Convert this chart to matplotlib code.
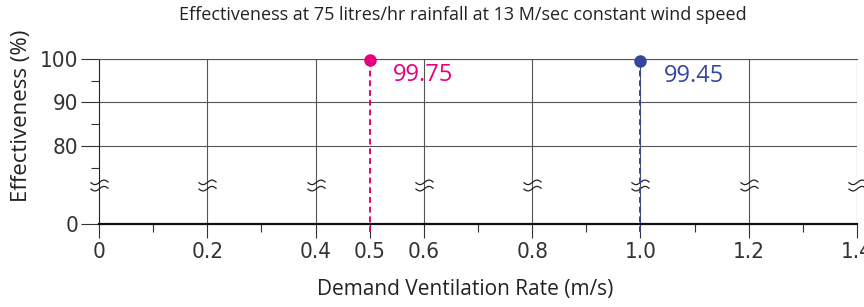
import matplotlib
matplotlib.use("Agg")
import matplotlib.pyplot as plt
import numpy as np
from matplotlib.path import Path
from matplotlib import font_manager

# ---- data ----
rates = [0.5, 1.0]
effectiveness = [99.75, 99.45]
value_labels = ["99.75", "99.45"]
point_colors = ["#E5007D", "#34479E"]
x_major = [0, 0.2, 0.4, 0.5, 0.6, 0.8, 1.0, 1.2, 1.4]
x_major_labels = ["0", "0.2", "0.4", "0.5", "0.6", "0.8", "1.0", "1.2", "1.4"]
x_grid = [0.2, 0.4, 0.6, 0.8, 1.0, 1.2, 1.4]
x_minor = [0.1, 0.3, 0.7, 0.9, 1.1, 1.3]
x_break = [0, 0.2, 0.4, 0.6, 0.8, 1.0, 1.2, 1.4]
y_ticks = [0, 80, 90, 100]
y_tick_labels = ["0", "80", "90", "100"]
y_minor = [75, 85, 95]
title = "Effectiveness at 75 litres/hr rainfall at 13 M/sec constant wind speed"
xlabel = "Demand Ventilation Rate (m/s)"
ylabel = "Effectiveness (%)"

# broken axis: values below the break are shifted up
BREAK_OFFSET = 62.0
def ymap(v):
    return v if v >= 70 else BREAK_OFFSET + v

names = {f.name for f in font_manager.fontManager.ttflist}
tick_font = "Liberation Sans Narrow" if "Liberation Sans Narrow" in names else "DejaVu Sans"
text_font = "Open Sans"

fig = plt.figure(figsize=(8.64, 3.07), dpi=100)
ax = fig.add_axes([99/864, 1-224/307, (857-99)/864, (224-59)/307])
ax.set_xlim(0, 1.4)
ax.set_ylim(ymap(0), 100)

grid_c = "#555555"
for yv in y_ticks[1:]:
    ax.axhline(ymap(yv), color=grid_c, lw=0.8, zorder=1)
for xv in x_grid:
    ax.axvline(xv, color=grid_c, lw=0.8, zorder=1)

# break squiggle marker
t = np.linspace(-1, 1, 30)
w = 0.25 * np.sin(np.pi * t)
verts = list(zip(t, w + 0.35)) + list(zip(t, w - 0.35))
codes = [Path.MOVETO] + [Path.LINETO] * 29 + [Path.MOVETO] + [Path.LINETO] * 29
squig = Path(verts, codes)
ax.plot(x_break, [71] * len(x_break), ls="none", marker=squig, ms=13,
        mfc="none", mec="#222222", mew=0.9, zorder=3, clip_on=False)

for x, y, lab, c in zip(rates, effectiveness, value_labels, point_colors):
    ax.plot([x, x], [ymap(0) - 1.9, y], ls=(0, (3, 2)), color=c, lw=1.4,
            zorder=4, clip_on=False)
    ax.plot([x], [y], "o", color=c, ms=8, zorder=5, clip_on=False)
    ax.annotate(lab, (x, y), xytext=(17, -2), textcoords="offset points",
                color=c, fontsize=17, fontfamily=text_font, va="top", ha="left")

ax.set_xticks(x_major)
ax.set_xticklabels(x_major_labels)
ax.set_xticks(x_minor, minor=True)
ax.set_yticks([ymap(v) for v in y_ticks])
ax.set_yticklabels(y_tick_labels)
ax.set_yticks(y_minor, minor=True)
ax.tick_params(axis="both", which="major", length=10, width=0.8, color="#333333",
               labelsize=16, labelcolor="#333333", pad=3)
ax.tick_params(axis="y", which="major", length=13, pad=2)
ax.tick_params(axis="both", which="minor", length=6, width=0.8, color="#333333")
for lab in ax.get_xticklabels() + ax.get_yticklabels():
    lab.set_fontfamily(tick_font)
    lab.set_fontstretch("condensed")
    lab.set_fontweight("light")

ax.spines["left"].set_color("#222222")
ax.spines["bottom"].set_color("#111111")
ax.spines["bottom"].set_linewidth(1.6)
ax.spines["top"].set_color(grid_c)
ax.spines["top"].set_linewidth(0.8)
ax.spines["right"].set_visible(False)

fig.text(463/864, 1-15/307, title, ha="center", va="center", fontsize=13,
         fontfamily=text_font, color="#222222")
fig.text(465/864, 1-290/307, xlabel, ha="center", va="center", fontsize=15,
         fontfamily=text_font, color="#222222")
fig.text(22/864, 1-116/307, ylabel, ha="center", va="center", fontsize=16,
         rotation=90, fontfamily=text_font, color="#222222")

fig.savefig("out.png", dpi=100)
